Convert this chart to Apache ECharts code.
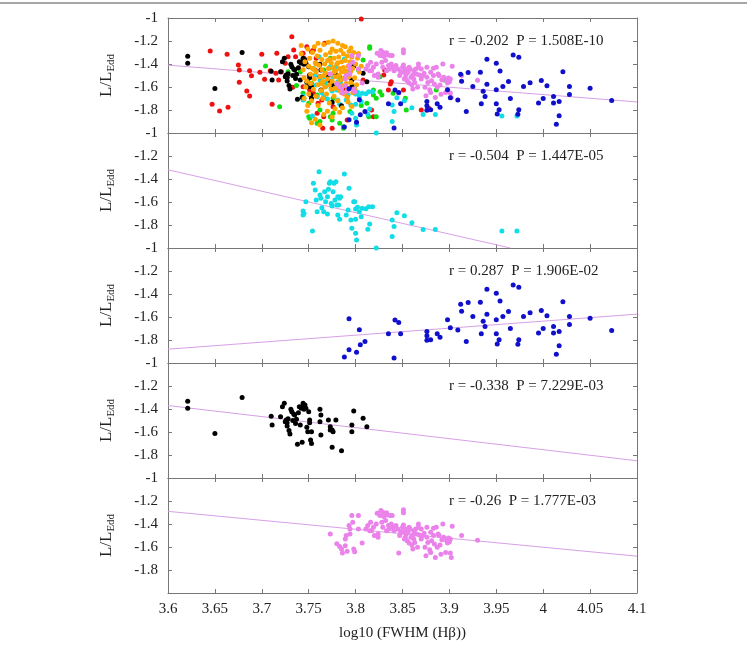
<!DOCTYPE html>
<html>
<head>
<meta charset="utf-8">
<script src="https://cdn.jsdelivr.net/npm/echarts@6/dist/echarts.min.js"></script>
<style>html,body{margin:0;padding:0;background:#fff;}#c{width:747px;height:646px;}</style>
</head>
<body>
<div id="c"></div>
<script>
// ---------- DATA ----------
const xTicks = [3.6, 3.65, 3.7, 3.75, 3.8, 3.85, 3.9, 3.95, 4, 4.05, 4.1];
const yTicks = [-2, -1.8, -1.6, -1.4, -1.2, -1];
const xTitle = 'log10 (FWHM (Hβ))';
const annotations = [
  'r = -0.202  P = 1.508E-10',
  'r = -0.504  P = 1.447E-05',
  'r = 0.287  P = 1.906E-02',
  'r = -0.338  P = 7.229E-03',
  'r = -0.26  P = 1.777E-03'
];
// regression lines (endpoints of fitted lines)
const fitLines = [
  [[3.6, -1.41], [4.1, -1.73]],
  [[3.6, -1.32], [3.965, -2.0]],
  [[3.6, -1.88], [4.1, -1.575]],
  [[3.6, -1.37], [4.1, -1.85]],
  [[3.6, -1.29], [4.1, -1.68]]
];

const redPts = [
[3.645,-1.287],[3.647,-1.750],[3.655,-1.809],[3.663,-1.316],[3.664,-1.777],[3.675,-1.409],[3.676,-1.452],
[3.676,-1.559],[3.684,-1.635],[3.687,-1.678],[3.687,-1.458],[3.689,-1.502],[3.698,-1.472],[3.700,-1.316],
[3.703,-1.533],[3.711,-1.750],[3.709,-1.458],[3.715,-1.481],[3.716,-1.307],[3.718,-1.539],[3.721,-1.467],
[3.725,-1.394],[3.727,-1.510],[3.728,-1.336],[3.732,-1.162],[3.733,-1.603],[3.734,-1.278],[3.736,-1.336],
[3.739,-1.438],[3.743,-1.307],[3.744,-1.597],[3.745,-1.351],[3.748,-1.249],[3.749,-1.554],[3.753,-1.293],
[3.758,-1.351],[3.764,-1.713],[3.765,-1.959],[3.755,-1.655],[3.759,-1.829],[3.806,-1.009],[3.744,-1.307],
[3.767,-1.220],[3.755,-1.278],[3.751,-1.626],[3.766,-1.858],[3.775,-1.959],[3.776,-1.771],[3.799,-1.626],
[3.808,-1.539],[3.830,-1.496],[3.835,-1.626],[3.837,-1.574],[3.851,-1.626],[3.870,-1.800],[3.878,-1.785],
[3.817,-1.800],[3.791,-1.887],[3.757,-1.452],[3.794,-1.452],[3.787,-1.612],[3.760,-1.742],[3.831,-1.452],
[3.819,-1.858],[3.838,-1.554]
];

const greenPts = [
[3.704,-1.417],[3.719,-1.771],[3.728,-1.467],[3.751,-1.872],[3.759,-1.916],[3.776,-1.698],[3.783,-1.916],
[3.773,-1.858],[3.787,-1.959],[3.737,-1.588],[3.750,-1.858],[3.815,-1.249],[3.773,-1.351],[3.766,-1.452],
[3.753,-1.568],[3.744,-1.655],[3.759,-1.670],[3.750,-1.742],[3.762,-1.901],[3.787,-1.945],[3.776,-1.829],
[3.794,-1.814],[3.801,-1.655],[3.812,-1.742],[3.819,-1.626],[3.822,-1.698],[3.828,-1.670],[3.808,-1.365],
[3.803,-1.452],[3.853,-1.698],[3.826,-1.510],[3.783,-1.510],[3.791,-1.713],[3.775,-1.887],[3.762,-1.800],
[3.814,-1.858],[3.822,-1.858],[3.815,-1.264],[3.826,-1.641],[3.819,-1.670],[3.854,-1.800],[3.840,-1.655],
[3.886,-1.626],[3.894,-1.539],[3.741,-1.470],[3.769,-1.560],[3.797,-1.590],[3.806,-1.760]
];

const orangePts = [
[3.742,-1.31],[3.744,-1.45],[3.745,-1.52],[3.746,-1.38],[3.747,-1.60],[3.748,-1.81],[3.749,-1.27],[3.750,-1.42],
[3.750,-1.66],[3.751,-1.35],[3.752,-1.49],[3.752,-1.57],[3.753,-1.72],[3.754,-1.30],[3.754,-1.44],[3.755,-1.62],
[3.756,-1.25],[3.756,-1.53],[3.757,-1.39],[3.758,-1.68],[3.758,-1.47],[3.759,-1.33],[3.760,-1.58],[3.760,-1.76],
[3.761,-1.41],[3.762,-1.28],[3.762,-1.51],[3.763,-1.63],[3.764,-1.36],[3.764,-1.45],[3.765,-1.55],[3.765,-1.70],
[3.766,-1.23],[3.767,-1.40],[3.767,-1.60],[3.768,-1.32],[3.768,-1.48],[3.769,-1.66],[3.770,-1.37],[3.770,-1.53],
[3.771,-1.21],[3.771,-1.44],[3.772,-1.58],[3.772,-1.74],[3.773,-1.30],[3.773,-1.49],[3.774,-1.62],[3.774,-1.39],
[3.775,-1.27],[3.775,-1.55],[3.776,-1.20],[3.776,-1.43],[3.777,-1.68],[3.777,-1.35],[3.778,-1.51],[3.778,-1.61],
[3.779,-1.29],[3.779,-1.46],[3.780,-1.40],[3.780,-1.57],[3.781,-1.22],[3.781,-1.72],[3.782,-1.34],[3.782,-1.50],
[3.783,-1.44],[3.783,-1.63],[3.784,-1.28],[3.784,-1.54],[3.785,-1.38],[3.785,-1.47],[3.786,-1.59],[3.786,-1.78],
[3.787,-1.31],[3.787,-1.43],[3.788,-1.52],[3.788,-1.66],[3.789,-1.25],[3.789,-1.37],[3.790,-1.48],[3.790,-1.57],
[3.791,-1.33],[3.791,-1.69],[3.792,-1.42],[3.792,-1.61],[3.793,-1.29],[3.793,-1.51],[3.794,-1.38],[3.795,-1.46],
[3.795,-1.56],[3.796,-1.34],[3.797,-1.65],[3.797,-1.44],[3.798,-1.30],[3.799,-1.52],[3.800,-1.40],[3.801,-1.58],
[3.802,-1.35],[3.803,-1.31],[3.804,-1.47],[3.806,-1.42],[3.757,-1.88],[3.762,-1.93],[3.766,-1.84],[3.770,-1.81],
[3.775,-1.86],[3.778,-1.79],[3.745,-1.70],[3.749,-1.76],[3.753,-1.91],[3.783,-1.82],[3.742,-1.24],[3.760,-1.22],
[3.786,-1.24],[3.795,-1.26],[3.799,-1.62],[3.748,-1.55],[3.756,-1.45],[3.764,-1.57],[3.777,-1.47],[3.781,-1.39],
[3.789,-1.46],[3.766,-1.50],[3.772,-1.36],[3.758,-1.40],[3.785,-1.65],[3.792,-1.73],[3.796,-1.77],[3.803,-1.31]
];

const cyanPts = [
[3.744,-1.678],[3.744,-1.713],[3.745,-1.699],[3.747,-1.597],[3.754,-1.852],[3.755,-1.438],[3.757,-1.496],
[3.758,-1.583],[3.759,-1.684],[3.761,-1.336],[3.762,-1.539],[3.763,-1.568],[3.764,-1.649],[3.766,-1.684],
[3.767,-1.510],[3.768,-1.597],[3.770,-1.704],[3.770,-1.554],[3.771,-1.490],[3.772,-1.438],[3.773,-1.423],
[3.774,-1.612],[3.775,-1.635],[3.776,-1.510],[3.777,-1.438],[3.778,-1.583],[3.779,-1.423],[3.780,-1.626],
[3.781,-1.554],[3.781,-1.713],[3.782,-1.626],[3.783,-1.568],[3.783,-1.751],[3.784,-1.554],[3.788,-1.357],
[3.790,-1.713],[3.792,-1.670],[3.793,-1.481],[3.795,-1.757],[3.796,-1.829],[3.798,-1.597],[3.799,-1.597],
[3.800,-1.661],[3.800,-1.751],[3.800,-1.872],[3.801,-1.930],[3.802,-1.646],[3.804,-1.684],[3.806,-1.728],
[3.807,-1.655],[3.811,-1.658],[3.813,-1.838],[3.814,-1.641],[3.815,-1.791],[3.818,-1.641],[3.822,-2.0],
[3.839,-1.757],[3.839,-1.901],[3.841,-1.814],[3.844,-1.693],[3.852,-1.72],[3.860,-1.78],[3.872,-1.84],
[3.885,-1.84],[3.956,-1.852],[3.972,-1.852]
];

const bluePts = [
[3.788,-1.947],[3.793,-1.884],[3.793,-1.616],[3.801,-1.907],[3.804,-1.711],[3.805,-1.841],[3.810,-1.812],
[3.835,-1.746],[3.842,-1.627],[3.841,-1.956],[3.846,-1.647],[3.848,-1.746],[3.876,-1.725],[3.876,-1.763],
[3.876,-1.803],[3.880,-1.797],[3.887,-1.746],[3.890,-1.777],[3.898,-1.624],[3.901,-1.694],[3.909,-1.714],
[3.912,-1.489],[3.913,-1.549],[3.918,-1.812],[3.920,-1.474],[3.925,-1.595],[3.933,-1.471],[3.934,-1.746],
[3.936,-1.636],[3.938,-1.682],[3.940,-1.359],[3.940,-1.575],[3.950,-1.393],[3.950,-1.624],[3.950,-1.746],
[3.951,-1.835],[3.953,-1.797],[3.954,-1.460],[3.957,-1.595],[3.963,-1.552],[3.965,-1.699],[3.968,-1.321],
[3.973,-1.838],[3.974,-1.341],[3.974,-1.797],[3.979,-1.595],[3.986,-1.564],[3.995,-1.740],[3.998,-1.543],
[4.000,-1.699],[4.004,-1.590],[4.011,-1.682],[4.011,-1.740],[4.014,-1.924],[4.017,-1.725],[4.017,-1.849],
[4.021,-1.468],[4.028,-1.595],[4.028,-1.665],[4.050,-1.610],[4.073,-1.717]
];

const blackPts = [
[3.621,-1.333],[3.621,-1.394],[3.650,-1.614],[3.679,-1.301],[3.710,-1.464],[3.711,-1.539],[3.720,-1.467],
[3.722,-1.380],[3.724,-1.351],[3.725,-1.510],[3.726,-1.496],[3.727,-1.519],[3.727,-1.548],[3.728,-1.484],
[3.729,-1.588],[3.730,-1.617],[3.731,-1.403],[3.732,-1.423],[3.733,-1.501],[3.734,-1.443],[3.735,-1.452],
[3.736,-1.525],[3.737,-1.490],[3.738,-1.707],[3.739,-1.432],[3.740,-1.380],[3.741,-1.539],[3.742,-1.394],
[3.743,-1.690],[3.743,-1.380],[3.744,-1.351],[3.745,-1.403],[3.746,-1.365],[3.747,-1.394],[3.748,-1.559],
[3.749,-1.597],[3.750,-1.423],[3.751,-1.519],[3.751,-1.496],[3.752,-1.670],[3.753,-1.699],[3.753,-1.597],
[3.762,-1.403],[3.763,-1.452],[3.762,-1.510],[3.763,-1.626],[3.771,-1.496],[3.773,-1.554],[3.773,-1.583],
[3.775,-1.583],[3.775,-1.733],[3.776,-1.597],[3.779,-1.496],[3.785,-1.762],[3.796,-1.539],[3.796,-1.597],
[3.798,-1.417],[3.808,-1.481],[3.812,-1.554]
];

const violetPts = [
[3.773,-1.487],[3.780,-1.571],[3.783,-1.595],[3.785,-1.618],[3.786,-1.653],[3.789,-1.589],[3.789,-1.531],
[3.790,-1.501],[3.791,-1.636],[3.793,-1.414],[3.794,-1.443],[3.794,-1.487],[3.796,-1.327],[3.797,-1.385],
[3.798,-1.618],[3.799,-1.641],[3.803,-1.327],[3.803,-1.443],[3.807,-1.566],[3.811,-1.443],[3.813,-1.414],
[3.815,-1.458],[3.816,-1.385],[3.817,-1.458],[3.819,-1.429],[3.820,-1.501],[3.822,-1.399],[3.823,-1.306],
[3.824,-1.516],[3.824,-1.487],[3.826,-1.327],[3.827,-1.283],[3.828,-1.385],[3.829,-1.429],[3.829,-1.297],
[3.830,-1.335],[3.832,-1.370],[3.833,-1.303],[3.833,-1.458],[3.834,-1.321],[3.835,-1.414],[3.836,-1.443],
[3.837,-1.327],[3.838,-1.399],[3.839,-1.327],[3.840,-1.429],[3.841,-1.458],[3.843,-1.414],[3.845,-1.443],
[3.846,-1.653],[3.847,-1.501],[3.848,-1.466],[3.849,-1.472],[3.850,-1.429],[3.851,-1.408],[3.851,-1.277],
[3.851,-1.303],[3.852,-1.472],[3.852,-1.531],[3.853,-1.443],[3.853,-1.516],[3.854,-1.487],[3.855,-1.545],
[3.856,-1.472],[3.857,-1.429],[3.857,-1.566],[3.858,-1.443],[3.859,-1.516],[3.860,-1.583],[3.861,-1.618],
[3.861,-1.496],[3.862,-1.458],[3.862,-1.531],[3.863,-1.560],[3.864,-1.443],[3.865,-1.487],[3.866,-1.603],
[3.867,-1.429],[3.867,-1.399],[3.868,-1.496],[3.870,-1.443],[3.870,-1.531],[3.872,-1.501],[3.873,-1.481],
[3.874,-1.603],[3.875,-1.676],[3.876,-1.516],[3.876,-1.429],[3.877,-1.560],[3.879,-1.624],[3.880,-1.647],
[3.880,-1.472],[3.881,-1.545],[3.883,-1.437],[3.883,-1.501],[3.884,-1.574],[3.885,-1.691],[3.886,-1.429],
[3.887,-1.603],[3.888,-1.487],[3.889,-1.501],[3.890,-1.583],[3.891,-1.662],[3.892,-1.536],[3.893,-1.399],
[3.894,-1.516],[3.896,-1.647],[3.897,-1.545],[3.898,-1.566],[3.899,-1.522],[3.900,-1.554],[3.901,-1.653],
[3.901,-1.531],[3.902,-1.691],[3.903,-1.420],[3.913,-1.501],[3.930,-1.542]
];

// which groups appear in each panel (bottom-to-top drawing order)
const panelGroups = [
  ['red', 'green', 'cyan', 'black', 'orange', 'violet', 'blue'],
  ['cyan'],
  ['blue'],
  ['black'],
  ['violet']
];

// ---------- STYLE / LAYOUT ----------
const groupData = {red: redPts, green: greenPts, orange: orangePts, cyan: cyanPts, blue: bluePts, black: blackPts, violet: violetPts};
const groupColor = {red: '#ee1111', green: '#11dd11', orange: '#ffa500', cyan: '#11dde6', blue: '#1010cc', black: '#000000', violet: '#ea82ea'};
const FONT = 'Liberation Serif';
const TXT = '#222';
const AX = '#777';
const L = 168, W = 469, T0 = 18, H = 115;

const grids = [], xAxes = [], yAxes = [], series = [], titles = [];
const fmtX = v => String(Number(v.toFixed(2)));
const fmtY = v => (v <= -1.99 ? '' : String(Number(v.toFixed(1))));

for (let i = 0; i < 5; i++) {
  const top = T0 + H * i;
  grids.push({left: L, width: W, top: top, height: H, containLabel: false});
  const isBottom = i === 4;
  // bottom x axis
  xAxes.push({
    type: 'value', gridIndex: i, position: 'bottom', min: xTicks[0], max: xTicks[xTicks.length - 1], interval: 0.05,
    axisLine: {show: true, onZero: false, lineStyle: {color: AX, width: 1}},
    axisTick: {show: true, inside: true, length: 4, lineStyle: {color: AX}},
    axisLabel: {show: isBottom, formatter: fmtX, fontFamily: FONT, fontSize: 15, color: TXT, margin: 9},
    splitLine: {show: false},
    name: isBottom ? xTitle : '', nameLocation: 'middle', nameGap: 33,
    nameTextStyle: {fontFamily: FONT, fontSize: 15, color: TXT}
  });
  // top x axis (mirror)
  xAxes.push({
    type: 'value', gridIndex: i, position: 'top', min: xTicks[0], max: xTicks[xTicks.length - 1], interval: 0.05,
    axisLine: {show: true, onZero: false, lineStyle: {color: AX, width: 1}},
    axisTick: {show: true, inside: true, length: 4, lineStyle: {color: AX}},
    axisLabel: {show: false}, splitLine: {show: false}
  });
  // left y axis
  yAxes.push({
    type: 'value', gridIndex: i, position: 'left', min: yTicks[0], max: yTicks[yTicks.length - 1], interval: 0.2,
    axisLine: {show: true, onZero: false, lineStyle: {color: AX, width: 1}},
    axisTick: {show: true, inside: true, length: 4, lineStyle: {color: AX}},
    axisLabel: {show: true, formatter: fmtY, fontFamily: FONT, fontSize: 15, color: TXT, margin: 10, showMinLabel: false},
    splitLine: {show: false},
    name: '{a|L/L}{b|Edd}', nameLocation: 'middle', nameRotate: 90, nameGap: 50,
    nameTextStyle: {
      fontFamily: FONT, color: TXT,
      rich: {
        a: {fontFamily: FONT, fontSize: 17, color: TXT, lineHeight: 22},
        b: {fontFamily: FONT, fontSize: 11, color: TXT, lineHeight: 22, padding: [9, 0, 0, 0]}
      }
    }
  });
  // right y axis (mirror)
  yAxes.push({
    type: 'value', gridIndex: i, position: 'right', min: yTicks[0], max: yTicks[yTicks.length - 1], interval: 0.2,
    axisLine: {show: true, onZero: false, lineStyle: {color: AX, width: 1}},
    axisTick: {show: true, inside: true, length: 4, lineStyle: {color: AX}},
    axisLabel: {show: false}, splitLine: {show: false}
  });

  series.push({
    type: 'line', xAxisIndex: 2 * i, yAxisIndex: 2 * i, data: fitLines[i],
    showSymbol: false, symbol: 'none', z: 1, silent: true,
    lineStyle: {color: '#d8a0e6', width: 1}
  });
  panelGroups[i].forEach(g => {
    series.push({
      type: 'scatter', xAxisIndex: 2 * i, yAxisIndex: 2 * i, data: groupData[g],
      symbolSize: 5, z: 2, silent: true, clip: false,
      itemStyle: {color: groupColor[g], opacity: 1}
    });
  });

  titles.push({
    text: annotations[i], left: 449, top: top + 16, padding: 0,
    textStyle: {fontFamily: FONT, fontSize: 15, fontWeight: 'normal', color: TXT}
  });
}

const chart = echarts.init(document.getElementById('c'), null, {renderer: 'canvas'});
chart.setOption({
  backgroundColor: '#fff',
  animation: false,
  title: titles,
  grid: grids,
  xAxis: xAxes,
  yAxis: yAxes,
  series: series,
  graphic: [{
    type: 'line', shape: {x1: 0, y1: 3, x2: 747, y2: 3},
    style: {stroke: '#888', lineWidth: 1.5}, silent: true
  }]
});
</script>
</body>
</html>
